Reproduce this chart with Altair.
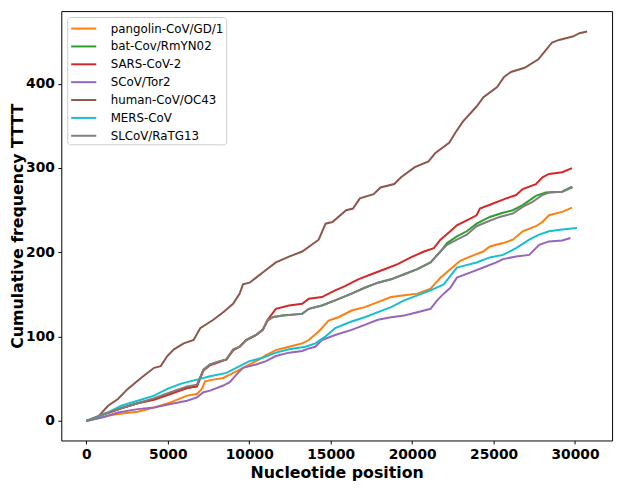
import altair as alt
import pandas as pd

series_names = ["pangolin-CoV/GD/1", "bat-Cov/RmYN02", "SARS-CoV-2", "SCoV/Tor2",
                "human-CoV/OC43", "MERS-CoV", "SLCoV/RaTG13"]
series_colors = ["#ff7f0e", "#2ca02c", "#d62728", "#9467bd", "#8c564b", "#17becf", "#7f7f7f"]

pangolin_x = [0, 727, 1535, 2343, 3151, 4161, 5171, 6181, 6787, 7090, 7292, 7797, 8403, 8807, 9413,
              10019, 10625, 11029, 11635, 12443, 13251, 13655, 14261, 14867, 15475, 16283, 17091,
              17899, 18707, 19515, 20323, 21131, 21737, 22343, 22949, 23555, 24363, 24767, 25575,
              26181, 26787, 27595, 27999, 28403, 29211, 29817]
pangolin_y = [0, 3, 7, 9, 11, 16, 22, 30, 32, 38, 47, 49, 51, 55, 61, 67, 73, 78, 84, 88, 92, 96,
              106, 119, 123, 131, 135, 141, 147, 149, 151, 157, 170, 180, 190, 195, 201, 207, 211,
              215, 225, 231, 236, 244, 248, 253]

ratg13_x = [0, 1131, 2141, 3151, 4161, 5171, 6181, 6787, 7191, 7595, 8201, 8605, 9009, 9413, 9817,
            10423, 10827, 11130, 11433, 12039, 13251, 13655, 14463, 15271, 16283, 17091, 17899,
            18707, 19515, 20323, 21131, 21737, 22141, 22747, 23353, 23959, 24565, 25373, 26181,
            26787, 27393, 28000, 28403, 29211, 29855]
ratg13_y = [0, 9, 15, 21, 27, 34, 41, 43, 61, 67, 71, 73, 85, 88, 96, 102, 108, 120, 123, 125, 127,
            133, 137, 143, 151, 158, 164, 168, 174, 180, 188, 201, 209, 215, 221, 231, 236, 242,
            246, 254, 260, 268, 271, 272, 277]

rmyn02_x = [0, 1131, 2141, 3151, 4161, 5171, 6181, 6787, 7191, 7595, 8201, 8605, 9009, 9413, 9817,
            10423, 10827, 11130, 11433, 12039, 13251, 13655, 14463, 15271, 16283, 17091, 17899,
            18707, 19515, 20323, 21131, 21737, 22141, 22747, 23353, 23959, 24767, 25575, 26181,
            26787, 27595, 28201, 29211, 29817]
rmyn02_y = [0, 8, 15, 21, 26, 33, 39, 41, 61, 67, 71, 73, 84, 88, 96, 102, 108, 119, 123, 125, 127,
            133, 137, 143, 151, 158, 164, 168, 174, 180, 188, 201, 211, 219, 225, 234, 242, 247,
            250, 256, 267, 271, 272, 278]

sars2_x = [0, 1131, 2141, 3151, 4161, 5171, 6181, 6787, 7191, 7595, 8201, 8605, 9009, 9413, 9817,
           10423, 10827, 11130, 11635, 12443, 13251, 13655, 14463, 15271, 15879, 16687, 17495,
           18303, 19111, 19919, 20727, 21333, 21737, 22343, 22747, 23353, 23959, 24161, 24969,
           25777, 26383, 26787, 27595, 27999, 28403, 29211, 29817]
sars2_y = [0, 8, 15, 21, 25, 32, 39, 41, 60, 66, 70, 73, 84, 88, 96, 102, 108, 120, 133, 137, 139,
           145, 147, 155, 160, 168, 174, 180, 186, 194, 201, 205, 215, 225, 232, 238, 244, 252,
           258, 264, 268, 275, 281, 289, 293, 295, 300]

tor2_x = [0, 1131, 1939, 3151, 4161, 5171, 6181, 6787, 7191, 7595, 8403, 8807, 9211, 9615, 10423,
          11029, 11635, 12443, 13251, 13655, 14059, 14463, 15271, 16283, 17091, 17899, 18707, 19515,
          20323, 21131, 21535, 21939, 22343, 22747, 23555, 24363, 25171, 25575, 26383, 27191,
          27797, 28403, 29211, 29716]
tor2_y = [0, 5, 10, 14, 16, 20, 24, 28, 34, 36, 42, 46, 55, 63, 67, 71, 77, 81, 83, 86, 88, 96, 102,
          108, 114, 120, 123, 125, 129, 133, 143, 151, 158, 170, 176, 182, 188, 192, 195, 197, 209,
          213, 214, 217]

oc43_x = [0, 727, 1333, 1939, 2545, 3354, 4162, 4566, 4970, 5374, 5980, 6586, 6990, 7798, 8404,
          9010, 9414, 9616, 10020, 10424, 10828, 11636, 12444, 13252, 14264, 14685, 15107, 15950,
          16371, 16792, 17635, 18057, 18899, 19321, 20164, 21006, 21428, 22271, 22692, 23113,
          23956, 24378, 25220, 25642, 26063, 26906, 27748, 28170, 28591, 29013, 29856, 30277, 30741]
oc43_y = [0, 5, 18, 26, 38, 51, 63, 65, 77, 85, 92, 96, 110, 120, 129, 139, 151, 162, 164, 170, 176,
          188, 195, 201, 215, 234, 236, 250, 252, 264, 269, 277, 281, 289, 301, 308, 318, 330, 343,
          355, 373, 384, 396, 408, 414, 419, 429, 439, 449, 452, 456, 460, 462]

mers_x = [0, 727, 1333, 2141, 3151, 4161, 4969, 5777, 6787, 7595, 8605, 9413, 10019, 10827, 11635,
          12443, 13453, 14059, 14665, 15273, 16283, 17091, 17899, 18707, 19515, 20323, 21131, 21939,
          22747, 23151, 23959, 24767, 25575, 26383, 27191, 27797, 28403, 29211, 30119]
mers_y = [0, 5, 10, 18, 24, 30, 38, 44, 49, 53, 57, 65, 71, 75, 81, 85, 88, 92, 100, 110, 118, 123,
          129, 135, 143, 149, 155, 162, 182, 184, 188, 194, 197, 205, 215, 221, 225, 227, 229]

x_ticks = [0, 5000, 10000, 15000, 20000, 25000, 30000]
y_ticks = [0, 100, 200, 300, 400]

series_xy = {
    "pangolin-CoV/GD/1": (pangolin_x, pangolin_y),
    "bat-Cov/RmYN02": (rmyn02_x, rmyn02_y),
    "SARS-CoV-2": (sars2_x, sars2_y),
    "SCoV/Tor2": (tor2_x, tor2_y),
    "human-CoV/OC43": (oc43_x, oc43_y),
    "MERS-CoV": (mers_x, mers_y),
    "SLCoV/RaTG13": (ratg13_x, ratg13_y),
}

rows = []
for order, name in enumerate(series_names):
    xs, ys = series_xy[name]
    for i, (xv, yv) in enumerate(zip(xs, ys)):
        rows.append({"series": name, "pos": xv, "freq": yv, "ord": order, "i": i})
df = pd.DataFrame(rows)

chart = alt.Chart(df).mark_line(strokeWidth=2, interpolate="linear").encode(
    x=alt.X("pos:Q", title="Nucleotide position",
            scale=alt.Scale(domain=[-1537, 32275], nice=False, zero=False),
            axis=alt.Axis(values=x_ticks, format="d", grid=False, labelPadding=3.5,
                          titlePadding=3)),
    y=alt.Y("freq:Q", title="Cumulative frequency TTTT",
            scale=alt.Scale(domain=[-23.2, 486.2], nice=False, zero=False),
            axis=alt.Axis(values=y_ticks, format="d", grid=False, labelPadding=3.5,
                          titlePadding=0)),
    color=alt.Color("series:N", sort=series_names,
                    scale=alt.Scale(domain=series_names, range=series_colors),
                    legend=alt.Legend(title=None, orient="top-left", offset=6,
                                      fillColor="white", strokeColor="#cccccc",
                                      cornerRadius=3, padding=2.2,
                                      labelFont="DejaVu Sans", labelFontSize=12,
                                      labelFontWeight="normal", labelColor="black",
                                      symbolType="M-1.5,0H1.5", symbolSize=287,
                                      symbolStrokeWidth=2, symbolOffset=5,
                                      labelOffset=17.8, rowPadding=2.1)),
    order=alt.Order("i:Q"),
    detail="series:N",
).properties(
    width=558, height=435,
    autosize=alt.AutoSizeParams(type="none"),
    padding={"left": 54, "top": 0, "right": 7, "bottom": 46},
).configure_view(
    stroke="black", strokeWidth=1
).configure_axis(
    domain=False, tickColor="black", tickSize=3.5, tickWidth=1,
    labelFont="DejaVu Sans", labelFontSize=14, labelFontWeight="bold", labelColor="black",
    titleFont="DejaVu Sans", titleFontSize=16, titleFontWeight="bold", titleColor="black",
)

chart.save("out.html", embed_options={"renderer": "svg", "actions": False})
